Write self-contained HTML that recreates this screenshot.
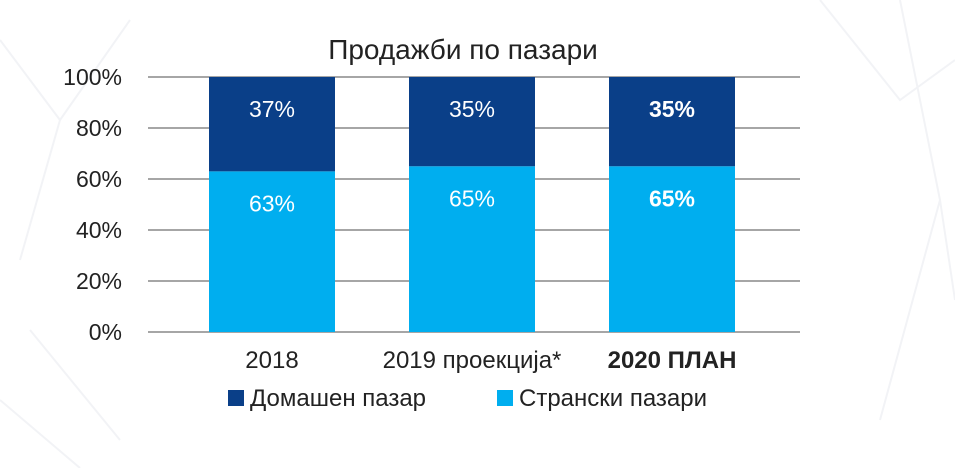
<!DOCTYPE html>
<html><head><meta charset="utf-8"><style>
body{margin:0;background:#fff;width:955px;height:468px;overflow:hidden;font-family:"Liberation Sans",sans-serif}
</style></head><body>
<svg id="c" width="955" height="468" xmlns="http://www.w3.org/2000/svg">
<g stroke="#f2f3f6" stroke-width="2" fill="none">
<path d="M0 40 L60 120 L20 260 M60 120 L130 20 M900 0 L940 200 L955 300 M940 200 L880 420 M820 0 L900 100 L955 60 M0 400 L80 468 M30 330 L120 440"/>
</g>
<text x="463" y="59" text-anchor="middle" font-size="28" fill="#222">Продажби по пазари</text>
<g id="grid"></g><g id="bars"></g><g id="labels"></g>
<g>
<rect x="228" y="390" width="16" height="16" fill="#0a3f88"/>
<text x="250" y="406" font-size="24" fill="#222">Домашен пазар</text>
<rect x="497" y="390" width="16" height="16" fill="#00aeef"/>
<text x="519" y="406" font-size="24" fill="#222">Странски пазари</text>
</g>
</svg>
<script>
const categories=["2018","2019 проекција*","2020 ПЛАН"];
const foreign=[63,65,65];
const domestic=[37,35,35];
const ticks=[0,20,40,60,80,100];
const bold=[false,false,true];
const NS="http://www.w3.org/2000/svg";
const x0=148,x1=800,y0=332,y1=77;
const b0=172,b1=772;
const y=v=>y0-(v/100)*(y0-y1);
const cx=i=>b0+(b1-b0)*(i+0.5)/categories.length;
const bw=126;
function mk(t,a,p){const e=document.createElementNS(NS,t);for(const k in a)e.setAttribute(k,a[k]);p.appendChild(e);return e;}
const g=document.getElementById('grid'),b=document.getElementById('bars'),l=document.getElementById('labels');
ticks.forEach(t=>{
 const ln=mk('line',{x1:x0,x2:x1,y1:y(t),y2:y(t),stroke:'#888','stroke-width':1.5},g);
 
 
 const tx=mk('text',{x:122,y:y(t)+8,'text-anchor':'end','font-size':23,fill:'#222'},g);
 tx.textContent=t+'%';
 
 
});
categories.forEach((c,i)=>{
 const left=cx(i)-bw/2;
 const r1=mk('rect',{x:left,y:y(foreign[i]),width:bw,height:y(0)-y(foreign[i]),fill:'#00aeef'},b);
 
 
 const r2=mk('rect',{x:left,y:y(foreign[i]+domestic[i]),width:bw,height:y(foreign[i])-y(foreign[i]+domestic[i]),fill:'#0a3f88'},b);
 
 
 const fw=bold[i]?'bold':'normal';
 const t1=mk('text',{x:cx(i),y:y(foreign[i])+40,'text-anchor':'middle','font-size':23,fill:'#fff','font-weight':fw},l);
 t1.textContent=foreign[i]+'%';
 
 
 const t2=mk('text',{x:cx(i),y:y(foreign[i]+domestic[i])+40,'text-anchor':'middle','font-size':23,fill:'#fff','font-weight':fw},l);
 t2.textContent=domestic[i]+'%';
 
 
 const t3=mk('text',{x:cx(i),y:368,'text-anchor':'middle','font-size':24,fill:'#222','font-weight':fw},l);
 t3.textContent=c;
 
 
});
</script>
</body></html>
